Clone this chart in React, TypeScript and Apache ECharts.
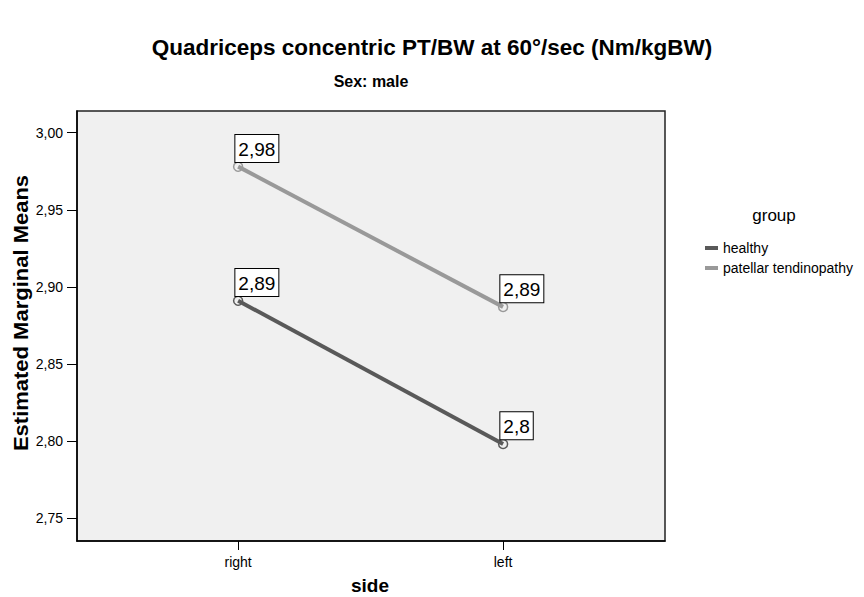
import React, { useEffect, useRef } from "react";
import * as echarts from "echarts";

const categories = ["right", "left"];
const healthy = [2.891, 2.798];
const patellar = [2.978, 2.887];
const yTicks = [2.75, 2.8, 2.85, 2.9, 2.95, 3.0];
const seriesNames = ["healthy", "patellar tendinopathy"];
const seriesColors = ["#595959", "#999999"];

const FONT = "'Liberation Sans', Arial, sans-serif";

const fmtVal = (v: number) => String(parseFloat(v.toFixed(2))).replace(".", ",");

export default function App() {
  const ref = useRef<HTMLDivElement>(null);
  useEffect(() => {
    if (!ref.current) return;
    const chart = echarts.init(ref.current, null, { renderer: "svg" });
    const mkSeries = (name: string, vals: number[], color: string) => ({
      name,
      type: "line",
      data: vals.map((v, i) => [i, v]),
      lineStyle: { color, width: 4 },
      itemStyle: { color: "transparent", borderColor: color, borderWidth: 1.5 },
      symbol: "circle",
      symbolSize: 9,
      showSymbol: true,
      label: {
        show: true,
        position: [2.5, 0.5],
        align: "left",
        verticalAlign: "bottom",
        formatter: (p: any) => fmtVal(p.value[1]),
        fontFamily: FONT,
        fontSize: 19,
        color: "#000",
        backgroundColor: "#fff",
        borderColor: "#000",
        borderWidth: 1,
        padding: [5, 3, 3, 3],
      },
    });
    chart.setOption({
      animation: false,
      backgroundColor: "#fff",
      graphic: [
        {
          type: "text",
          x: 432,
          y: 47,
          style: {
            text: "Quadriceps concentric PT/BW at 60°/sec (Nm/kgBW)",
            fontFamily: FONT,
            fontSize: 22.5,
            fontWeight: "bold",
            fill: "#000",
            align: "center",
            verticalAlign: "middle",
          },
        },
        {
          type: "text",
          x: 371,
          y: 81,
          style: {
            text: "Sex: male",
            fontFamily: FONT,
            fontSize: 16,
            fontWeight: "bold",
            fill: "#000",
            align: "center",
            verticalAlign: "middle",
          },
        },
        {
          type: "text",
          x: 21,
          y: 313,
          rotation: Math.PI / 2,
          scaleX: 1.1,
          style: {
            text: "Estimated Marginal Means",
            fontFamily: FONT,
            fontSize: 20,
            fontWeight: "bold",
            fill: "#000",
            align: "center",
            verticalAlign: "middle",
          },
        },
        {
          type: "text",
          x: 370,
          y: 585,
          style: {
            text: "side",
            fontFamily: FONT,
            fontSize: 19,
            fontWeight: "bold",
            fill: "#000",
            align: "center",
            verticalAlign: "middle",
          },
        },
        {
          type: "text",
          x: 774,
          y: 215,
          style: {
            text: "group",
            fontFamily: FONT,
            fontSize: 17,
            fill: "#000",
            align: "center",
            verticalAlign: "middle",
          },
        },
      ],
      legend: {
        orient: "vertical",
        left: 700,
        top: 235,
        itemWidth: 13,
        itemHeight: 4,
        itemGap: 4,
        icon: "rect",
        data: seriesNames.map((n, i) => ({
          name: n,
          itemStyle: { color: seriesColors[i], borderWidth: 0 },
        })),
        textStyle: { fontFamily: FONT, fontSize: 14, lineHeight: 16, color: "#000" },
      },
      grid: {
        left: 77,
        right: 199,
        top: 111,
        bottom: 56,
        show: true,
        backgroundColor: "#f0f0f0",
        borderColor: "#222",
        borderWidth: 1.5,
      },
      xAxis: {
        type: "value",
        min: -0.608,
        max: 1.611,
        splitLine: { show: false },
        axisLine: { show: true, onZero: false, lineStyle: { color: "#000", width: 1.5 } },
        axisTick: { show: true, customValues: [0, 1], length: 9, lineStyle: { color: "#000" } },
        axisLabel: {
          customValues: [0, 1],
          formatter: (v: number) => categories[Math.round(v)] ?? "",
          fontFamily: FONT,
          fontSize: 14,
          color: "#000",
          margin: 14,
        },
      },
      yAxis: {
        type: "value",
        min: 2.7351,
        max: 3.0141,
        splitLine: { show: false },
        axisLine: { show: true, onZero: false, lineStyle: { color: "#000", width: 1.5 } },
        axisTick: { show: true, customValues: yTicks, length: 10, lineStyle: { color: "#000" } },
        axisLabel: {
          customValues: yTicks,
          formatter: (v: number) => v.toFixed(2).replace(".", ","),
          fontFamily: FONT,
          fontSize: 14,
          color: "#000",
          margin: 14,
        },
      },
      series: [
        mkSeries(seriesNames[0], healthy, seriesColors[0]),
        mkSeries(seriesNames[1], patellar, seriesColors[1]),
      ],
    });
    return () => chart.dispose();
  }, []);
  return <div ref={ref} style={{ width: 864, height: 597, position: "absolute", left: 0, top: 0 }} />;
}
